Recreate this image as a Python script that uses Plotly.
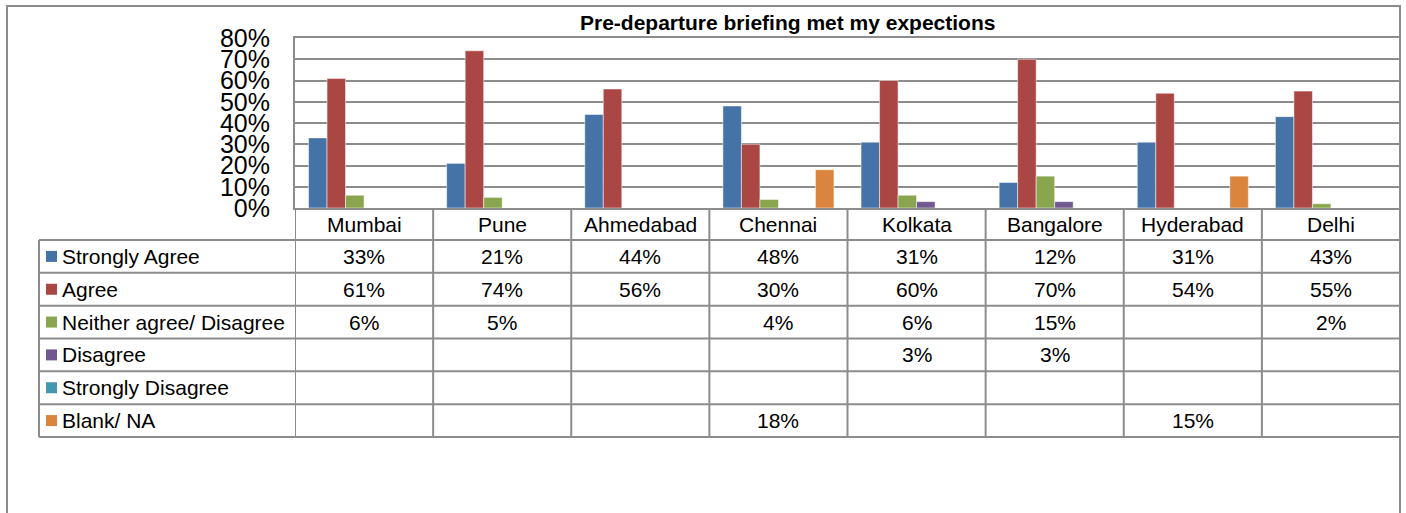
import plotly.graph_objects as go

W, H = 1406, 513

cities = ["Mumbai", "Pune", "Ahmedabad", "Chennai", "Kolkata", "Bangalore", "Hyderabad", "Delhi"]
series_names = ["Strongly Agree", "Agree", "Neither agree/ Disagree", "Disagree",
                "Strongly Disagree", "Blank/ NA"]
strongly_agree = [33, 21, 44, 48, 31, 12, 31, 43]
agree = [61, 74, 56, 30, 60, 70, 54, 55]
neither = [6, 5, None, 4, 6, 15, None, 2]
disagree = [None, None, None, None, 3, 3, None, None]
strongly_disagree = [None, None, None, None, None, None, None, None]
blank_na = [None, None, None, 18, None, None, 15, None]
series_values = [strongly_agree, agree, neither, disagree, strongly_disagree, blank_na]
colors = ["#4572A7", "#AA4643", "#89A54E", "#71588F", "#4198AF", "#DB843D"]

y_ticks = [0, 0.1, 0.2, 0.3, 0.4, 0.5, 0.6, 0.7, 0.8]

FONT = "Liberation Sans, Arial, sans-serif"
GRID = "#8c8c8c"
TXT = 21


def px_x(x):
    return x / W


def px_y(y):
    return 1 - y / H


fig = go.Figure()
for name, vals, col in zip(series_names, series_values, colors):
    fig.add_trace(go.Bar(
        name=name,
        x=cities,
        y=[v / 100 if v is not None else None for v in vals],
        marker=dict(color=col, line=dict(color="rgba(255,255,255,0.5)", width=1)),
    ))

# table geometry (pixels)
plot_left, plot_right = 295, 1400
plot_top, plot_bottom = 38, 208
table_left = 39
header_bottom = 240
row_h = 32.83

shapes = []
annotations = []

# outer chart frame
shapes.append(dict(type="rect", xref="paper", yref="paper",
                   x0=px_x(7), x1=px_x(1400), y0=-0.2, y1=px_y(6),
                   line=dict(color=GRID, width=2)))

# vertical lines at category boundaries (header + rows)
for j in range(len(cities) + 1):
    shapes.append(dict(type="line", xref="x", yref="paper",
                       x0=j - 0.5, x1=j - 0.5,
                       y0=px_y(plot_bottom), y1=px_y(header_bottom + row_h * len(series_names)),
                       line=dict(color=GRID, width=2)))
# left edge of label column
shapes.append(dict(type="line", xref="paper", yref="paper",
                   x0=px_x(table_left), x1=px_x(table_left),
                   y0=px_y(header_bottom), y1=px_y(header_bottom + row_h * len(series_names)),
                   line=dict(color=GRID, width=2)))
# horizontal row lines
for i in range(len(series_names) + 1):
    yy = header_bottom + row_h * i
    shapes.append(dict(type="line", xref="paper", yref="paper",
                       x0=px_x(table_left), x1=px_x(plot_right),
                       y0=px_y(yy), y1=px_y(yy),
                       line=dict(color=GRID, width=2)))

# category header labels
for c in cities:
    annotations.append(dict(x=c, xref="x", y=px_y((plot_bottom + header_bottom) / 2), yref="paper",
                            text=c, showarrow=False, xanchor="center", yanchor="middle",
                            font=dict(size=TXT, color="black", family=FONT)))

# rows: legend key, label, values
for i, (name, vals, col) in enumerate(zip(series_names, series_values, colors)):
    yc = header_bottom + row_h * (i + 0.5)
    shapes.append(dict(type="rect", xref="paper", yref="paper",
                       x0=px_x(46), x1=px_x(57), y0=px_y(yc + 5.5), y1=px_y(yc - 5.5),
                       fillcolor=col, line=dict(width=0)))
    annotations.append(dict(x=px_x(60), xref="paper", y=px_y(yc), yref="paper",
                            text=name, showarrow=False, xanchor="left", yanchor="middle",
                            font=dict(size=TXT, color="black", family=FONT)))
    for c, v in zip(cities, vals):
        if v is None:
            continue
        annotations.append(dict(x=c, xref="x", y=px_y(yc), yref="paper",
                                text=f"{v}%", showarrow=False, xanchor="center", yanchor="middle",
                                font=dict(size=TXT, color="black", family=FONT)))

# title
annotations.append(dict(x=px_x(787), xref="paper", y=px_y(23), yref="paper",
                        text="<b>Pre-departure briefing met my expections</b>", showarrow=False,
                        xanchor="center", yanchor="middle",
                        font=dict(size=TXT, color="black", family=FONT)))

fig.update_layout(
    width=W, height=H,
    autosize=False,
    margin=dict(l=0, r=0, t=0, b=0, pad=0, autoexpand=False),
    paper_bgcolor="white",
    plot_bgcolor="white",
    barmode="group",
    bargap=0.196,
    bargroupgap=0,
    showlegend=False,
    font=dict(family=FONT, color="black"),
    shapes=shapes,
    annotations=annotations,
    xaxis=dict(domain=[px_x(plot_left), px_x(plot_right)], range=[-0.5, len(cities) - 0.5],
               showticklabels=False, showgrid=False, zeroline=False,
               showline=True, mirror=True, linecolor=GRID, linewidth=2,
               automargin=False),
    yaxis=dict(domain=[px_y(plot_bottom), px_y(plot_top)], range=[0, 0.8],
               tickvals=y_ticks, tickformat=".0%", showgrid=True, gridcolor=GRID, gridwidth=2,
               zeroline=False, showline=True, linecolor=GRID, linewidth=2,
               ticks="", ticklabelstandoff=18, automargin=False,
               tickfont=dict(size=25, color="black", family=FONT)),
)

fig.write_html("out.html", config={"displayModeBar": False},
               post_script="document.body.style.margin='0';document.body.style.overflow='hidden';")
